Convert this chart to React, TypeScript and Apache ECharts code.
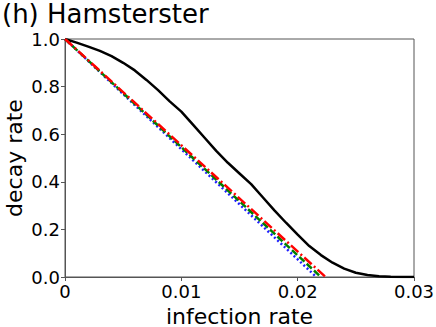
import React, { useEffect, useRef } from "react";
import * as echarts from "echarts";

const titleText = "(h) Hamsterster";
const xName = "infection rate";
const yName = "decay rate";

const simX = [0, 0.001, 0.002, 0.003, 0.004, 0.005, 0.006, 0.007, 0.008, 0.009, 0.01, 0.011, 0.012, 0.013, 0.014, 0.015, 0.016, 0.017, 0.018, 0.019, 0.02, 0.021, 0.022, 0.023, 0.024, 0.025, 0.026, 0.027, 0.028, 0.029, 0.03];
const simY = [1.0, 0.985, 0.968, 0.95, 0.928, 0.9, 0.868, 0.828, 0.785, 0.738, 0.695, 0.64, 0.585, 0.53, 0.48, 0.435, 0.39, 0.335, 0.28, 0.228, 0.178, 0.13, 0.092, 0.06, 0.035, 0.018, 0.008, 0.003, 0.001, 0, 0];

const blueX = [0, 0.0216];
const blueY = [1.0, 0.0];
const greenX = [0, 0.0220];
const greenY = [1.0, 0.0];
const redX = [0, 0.0224];
const redY = [1.0, 0.0];

const zip = (xs: number[], ys: number[]) => xs.map((x, i) => [x, ys[i]]);

export default function App() {
  const ref = useRef<HTMLDivElement>(null);
  useEffect(() => {
    if (!ref.current) return;
    const chart = echarts.init(ref.current, null, { renderer: "svg" });
    const font = "DejaVu Sans";
    chart.setOption({
      animation: false,
      backgroundColor: "#fff",
      title: {
        text: titleText,
        left: 2,
        top: 1,
        padding: 0,
        textStyle: { fontFamily: font, fontSize: 26, fontWeight: "normal", color: "#000" },
      },
      grid: {
        left: 65, right: 22, top: 39, bottom: 50,
        containLabel: false,
        outerBoundsMode: "none",
        show: true, borderColor: "#555", borderWidth: 1,
      },
      xAxis: {
        type: "value",
        min: 0,
        max: 0.03,
        interval: 0.01,
        name: xName,
        nameLocation: "middle",
        nameGap: 28,
        nameTextStyle: { fontFamily: font, fontSize: 22, color: "#000" },
        axisLine: { show: true, lineStyle: { color: "#555", width: 1 } },
        axisTick: { show: true, length: 4, lineStyle: { color: "#555" } },
        splitLine: { show: false },
        axisLabel: {
          fontFamily: font,
          fontSize: 18,
          color: "#000",
          margin: 5,
          formatter: (v: number) => (v === 0 ? "0" : v.toFixed(2)),
        },
      },
      yAxis: {
        type: "value",
        min: 0,
        max: 1,
        interval: 0.2,
        name: yName,
        nameLocation: "middle",
        nameGap: 40,
        nameMoveOverlap: false,
        nameTextStyle: { fontFamily: font, fontSize: 22, color: "#000" },
        axisLine: { show: true, lineStyle: { color: "#555", width: 1 } },
        axisTick: { show: true, length: 4, lineStyle: { color: "#555" } },
        splitLine: { show: false },
        axisLabel: {
          fontFamily: font,
          fontSize: 18,
          color: "#000",
          margin: 5,
          formatter: (v: number) => v.toFixed(1),
        },
      },
      series: [
        {
          type: "line",
          data: zip(simX, simY),
          showSymbol: false,
          smooth: false,
          lineStyle: { color: "#000", width: 2.5 },
        },
        {
          type: "line",
          data: zip(blueX, blueY),
          showSymbol: false,
          lineStyle: { color: "#1f1fff", width: 2.5, type: [2, 2.5] },
        },
        {
          type: "line",
          data: zip(greenX, greenY),
          showSymbol: false,
          lineStyle: { color: "#008000", width: 2.5, type: [7, 3] },
        },
        {
          type: "line",
          data: zip(redX, redY),
          showSymbol: false,
          lineStyle: { color: "#ff0000", width: 2.5, type: [10, 3, 2, 3] },
        },
      ],
    });
    return () => chart.dispose();
  }, []);
  return <div ref={ref} style={{ width: 436, height: 327, position: "absolute", left: 0, top: 0 }} />;
}
